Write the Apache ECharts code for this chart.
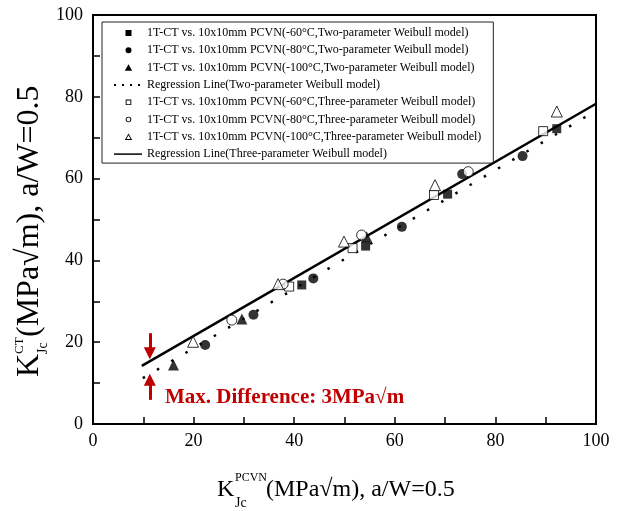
<!DOCTYPE html>
<html><head><meta charset="utf-8">
<script src="https://cdn.jsdelivr.net/npm/echarts@6/dist/echarts.min.js"></script>
<style>html,body{margin:0;padding:0;background:#fff}#c{width:621px;height:511px}</style>
</head><body><div id="c"></div>
<script>
const FONT = '"Liberation Serif","Times New Roman",serif';

// ---- data ----
const names = [
  '1T-CT vs. 10x10mm PCVN(-60°C,Two-parameter Weibull model)',
  '1T-CT vs. 10x10mm PCVN(-80°C,Two-parameter Weibull model)',
  '1T-CT vs. 10x10mm PCVN(-100°C,Two-parameter Weibull model)',
  'Regression Line(Two-parameter Weibull model)',
  '1T-CT vs. 10x10mm PCVN(-60°C,Three-parameter Weibull model)',
  '1T-CT vs. 10x10mm PCVN(-80°C,Three-parameter Weibull model)',
  '1T-CT vs. 10x10mm PCVN(-100°C,Three-parameter Weibull model)',
  'Regression Line(Three-parameter Weibull model)'
];
const two60  = [[41.5,34.0],[54.2,43.5],[70.5,56.2],[92.2,72.2]];
const two80  = [[22.3,19.3],[31.9,26.7],[43.8,35.6],[61.4,48.2],[73.4,61.1],[85.4,65.5]];
const two100 = [[16.0,14.4],[29.6,25.7],[54.4,45.8]];
const twoReg = [[9.9,11.2],[100,76.6]];
const three60  = [[39.0,33.6],[51.6,43.0],[67.8,56.0],[89.5,71.6]];
const three80  = [[27.6,25.4],[37.8,34.2],[53.4,46.2],[74.6,61.7]];
const three100 = [[19.9,20.1],[36.8,34.2],[49.9,44.6],[68.0,58.4],[92.2,76.4]];
const threeReg = [[9.7,14.2],[100,78.3]];
const xTicks = {min:0, max:100, interval:20};
const yTicks = {min:0, max:100, interval:20};
const annotation = 'Max. Difference: 3MPa√m';
const arrowX = 11.3;
const arrowTop = [22.2, 17.3];
const arrowBottom = [5.9, 10.8];

const RED = '#c00000';

// legend icon paths, drawn in a 28x7 box (tiny corner specks fix the box so shapes keep their aspect)
const BOX = 'M0,0h0.01v0.01h-0.01z M27.99,6.99h0.01v0.01h-0.01z ';
const ICON = {
  fRect: 'path://' + BOX + 'M11.5,0.5h6v6h-6z',
  fCircle: 'path://' + BOX + 'M11.5,3.5a3,3 0 1,0 6,0a3,3 0 1,0 -6,0z',
  fTri: 'path://' + BOX + 'M14.5,0.2L18.2,6.6L10.8,6.6z',
  eRect: 'path://' + BOX + 'M11.7,0.8h5.6v5.6h-5.6z M12.6,1.7v3.8h3.8v-3.8z',
  eCircle: 'path://' + BOX + 'M11.7,3.5a2.8,2.8 0 1,0 5.6,0a2.8,2.8 0 1,0 -5.6,0z M12.6,3.5a1.9,1.9 0 1,1 3.8,0a1.9,1.9 0 1,1 -3.8,0z',
  eTri: 'path://' + BOX + 'M14.5,0.2L18.2,6.6L10.8,6.6z M14.5,2.0L12.4,5.7L16.6,5.7z'
};
const iconStyle = {color:'#000', borderWidth:0, opacity:1};

function filled(name, data, symbol, size) {
  return {name, type:'scatter', data, symbol, symbolSize:size, z:3,
    itemStyle:{color:'#000'}};
}
function empty(name, data, symbol, size) {
  return {name, type:'scatter', data, symbol, symbolSize:size, z:3,
    itemStyle:{color:'#fff', borderColor:'#000', borderWidth:1}};
}
const axisCommon = {
  type:'value',
  axisLine:{show:true, lineStyle:{color:'#000', width:2}},
  axisTick:{show:true, inside:true, length:7, lineStyle:{color:'#000', width:1.5}},
  minorTick:{show:true, splitNumber:2, length:7, lineStyle:{color:'#000', width:1.5}},
  splitLine:{show:false},
  axisLabel:{fontFamily:FONT, fontSize:18, color:'#000'}
};

const chart = echarts.init(document.getElementById('c'), null, {renderer:'canvas'});
chart.setOption({
  animation:false,
  backgroundColor:'#fff',
  grid:{left:93, right:25, top:15, bottom:87, show:true, borderColor:'#000', borderWidth:2, backgroundColor:'transparent'},
  xAxis:Object.assign({}, axisCommon, xTicks, {axisLabel:Object.assign({}, axisCommon.axisLabel, {margin:8})}),
  yAxis:Object.assign({}, axisCommon, yTicks, {axisLabel:Object.assign({}, axisCommon.axisLabel, {margin:10})}),
  legend:{
    orient:'vertical', left:102, top:22,
    padding:[5,12,3,11],
    borderColor:'#222', borderWidth:1,
    itemWidth:28, itemHeight:7, itemGap:5.3,
    textStyle:{fontFamily:FONT, fontSize:12, color:'#000'},
    data:[
      {name:names[0], icon:ICON.fRect, itemStyle:iconStyle},
      {name:names[1], icon:ICON.fCircle, itemStyle:iconStyle},
      {name:names[2], icon:ICON.fTri, itemStyle:iconStyle},
      {name:names[3], itemStyle:{opacity:0}, lineStyle:{type:[2,6], width:2}},
      {name:names[4], icon:ICON.eRect, itemStyle:iconStyle},
      {name:names[5], icon:ICON.eCircle, itemStyle:iconStyle},
      {name:names[6], icon:ICON.eTri, itemStyle:iconStyle},
      {name:names[7], itemStyle:{opacity:0}, lineStyle:{width:1.5}}
    ]
  },
  series:[
    {name:names[3], type:'line', data:twoReg, symbol:'none', z:1, silent:true,
      lineStyle:{color:'#000', width:2.5, type:[2.5,14]}, itemStyle:{color:'#000'}},
    {name:names[7], type:'line', data:threeReg, symbol:'none', z:1, silent:true,
      lineStyle:{color:'#000', width:2.5}, itemStyle:{color:'#000'},
      markLine:{silent:true, symbol:['none','triangle'], symbolSize:12,
        label:{show:false}, lineStyle:{color:RED, width:3, type:'solid'},
        emphasis:{disabled:true},
        data:[
          [{coord:[arrowX, arrowTop[0]]},{coord:[arrowX, arrowTop[1]]}],
          [{coord:[arrowX, arrowBottom[0]]},{coord:[arrowX, arrowBottom[1]]}]
        ]}},
    filled(names[0], two60, 'rect', 9),
    filled(names[1], two80, 'circle', 10),
    filled(names[2], two100, 'triangle', 11),
    empty(names[4], three60, 'rect', 9),
    empty(names[5], three80, 'circle', 10),
    empty(names[6], three100, 'triangle', 11)
  ],
  graphic:[
    {type:'text', x:165, y:398, style:{text:annotation, font:'bold 21px '+FONT, fill:RED, align:'left', verticalAlign:'middle'}},
    // x axis title
    {type:'text', x:217, y:490, style:{text:'K', font:'24px '+FONT, fill:'#000', verticalAlign:'middle'}},
    {type:'text', x:235, y:478, style:{text:'PCVN', font:'12px '+FONT, fill:'#000', verticalAlign:'middle'}},
    {type:'text', x:235, y:503, style:{text:'Jc', font:'14px '+FONT, fill:'#000', verticalAlign:'middle'}},
    {type:'text', x:266, y:490, style:{text:'(MPa√m), a/W=0.5', font:'24px '+FONT, fill:'#000', verticalAlign:'middle'}},
    // y axis title
    {type:'group', x:30, y:377, rotation:Math.PI/2, children:[
      {type:'text', x:0, y:0, style:{text:'K', font:'32px '+FONT, fill:'#000', verticalAlign:'middle'}},
      {type:'text', x:23, y:-10, style:{text:'CT', font:'13px '+FONT, fill:'#000', verticalAlign:'middle'}},
      {type:'text', x:23, y:13, style:{text:'Jc', font:'14px '+FONT, fill:'#000', verticalAlign:'middle'}},
      {type:'text', x:40, y:0, style:{text:'(MPa√m), a/W=0.5', font:'32px '+FONT, fill:'#000', verticalAlign:'middle'}}
    ]}
  ]
});
</script></body></html>
